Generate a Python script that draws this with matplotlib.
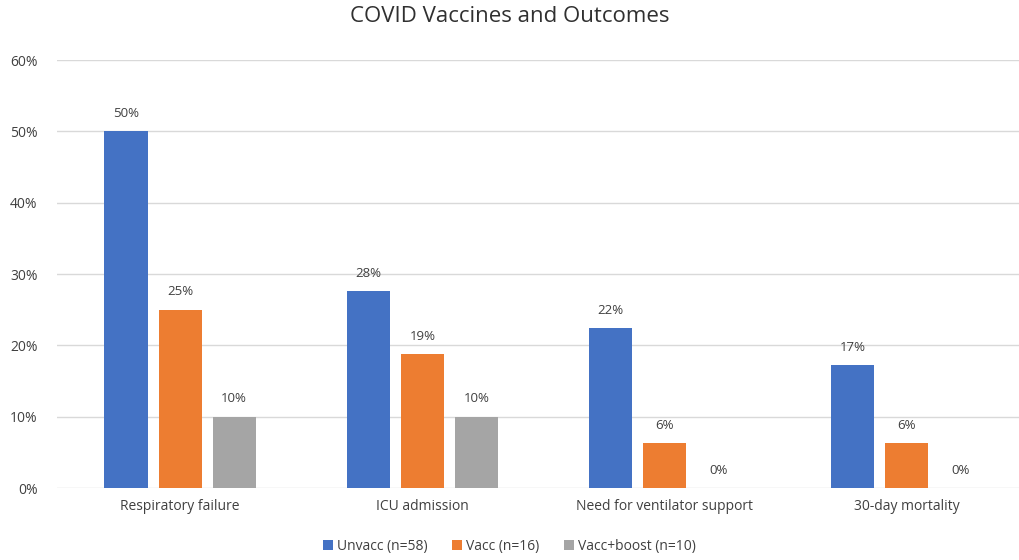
import numpy as np
import matplotlib.pyplot as plt
from matplotlib.ticker import PercentFormatter

CATEGORIES = ["Respiratory failure", "ICU admission", "Need for ventilator support", "30-day mortality"]
SERIES = ["Unvacc (n=58)", "Vacc (n=16)", "Vacc+boost (n=10)"]
UNVACC = [50.0, 27.6, 22.4, 17.2]
VACC = [25.0, 18.75, 6.25, 6.25]
BOOST = [10.0, 10.0, 0.0, 0.0]
COLORS = ["#4472C4", "#ED7D31", "#A5A5A5"]

plt.rcParams['font.family'] = ['Open Sans', 'DejaVu Sans']

fig = plt.figure(figsize=(10.19, 5.6), dpi=100)
ax = fig.add_axes([57 / 1019, 1 - 488 / 560, (1019 - 57) / 1019, 428 / 560])

x = np.arange(len(CATEGORIES))
width = 0.178
step = 0.223
for i, (vals, name, col) in enumerate(zip([UNVACC, VACC, BOOST], SERIES, COLORS)):
    pos = x + (i - 1) * step
    ax.bar(pos, vals, width, color=col, label=name, zorder=3)
    for p, v in zip(pos, vals):
        ax.text(p, v + 1.6, f"{v:.0f}%", ha="center", va="bottom",
                fontsize=9.5, color="#404040")

ax.set_xlim(-0.508, 3.463)
ax.set_ylim(0, 60)
ax.set_yticks(np.arange(0, 61, 10))
ax.yaxis.set_major_formatter(PercentFormatter(decimals=0))
ax.set_xticks(x)
ax.set_xticklabels(CATEGORIES)
ax.grid(axis="y", color="#D9D9D9", linewidth=1, zorder=0)
for s in ax.spines.values():
    s.set_visible(False)
ax.tick_params(length=0, labelsize=10, labelcolor="#404040")
ax.tick_params(axis="y", pad=14)
ax.tick_params(axis="x", pad=8)

fig.suptitle("COVID Vaccines and Outcomes", y=0.99, fontsize=16, color="#303030")
fig.legend(loc="lower center", bbox_to_anchor=(0.5, -0.012), ncol=3, frameon=False,
           fontsize=10, handlelength=0.7, handleheight=0.7, handletextpad=0.3,
           columnspacing=1.8, labelcolor="#404040")

fig.savefig("out.png", dpi=100)
